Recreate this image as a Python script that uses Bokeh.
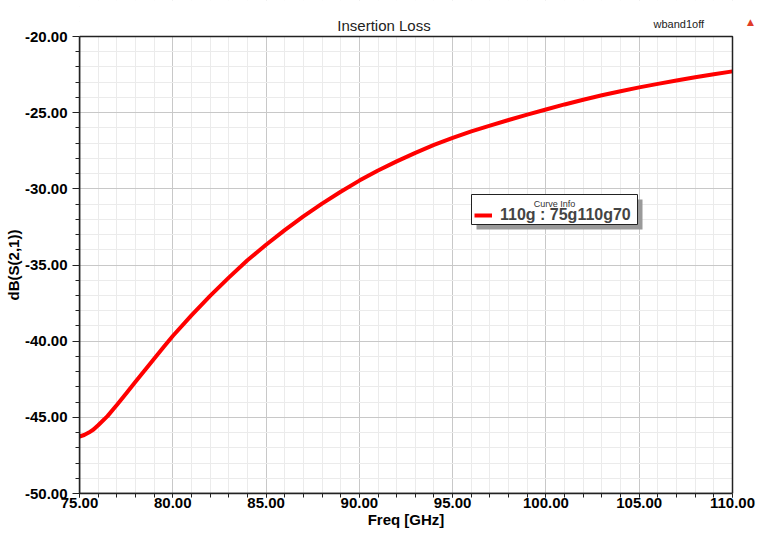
from bokeh.plotting import figure
from bokeh.models import (Range1d, SingleIntervalTicker, NumeralTickFormatter, Legend,
                          LegendItem, Label, BoxAnnotation, LinearAxis, FixedTicker)
from bokeh.embed import file_html
from bokeh.resources import INLINE

# ---- data ----
freq_ghz = [75.0, 75.25, 75.5, 75.75, 76.0, 76.5, 77.0, 77.5, 78.0, 78.5, 79.0, 79.5,
            80.0, 81.0, 82.0, 83.0, 84.0, 85.0, 86.0, 87.0, 88.0, 89.0, 90.0, 91.0,
            92.0, 93.0, 94.0, 95.0, 96.0, 97.0, 98.0, 99.0, 100.0, 101.0, 102.0,
            103.0, 104.0, 105.0, 106.0, 107.0, 108.0, 109.0, 110.0]
s21_db = [-46.26, -46.16, -46.00, -45.80, -45.52, -44.92, -44.19, -43.43, -42.67,
          -41.91, -41.15, -40.40, -39.66, -38.31, -37.03, -35.83, -34.69, -33.67,
          -32.71, -31.81, -30.97, -30.19, -29.46, -28.80, -28.20, -27.64, -27.12,
          -26.66, -26.23, -25.85, -25.48, -25.13, -24.79, -24.46, -24.15, -23.86,
          -23.59, -23.34, -23.11, -22.89, -22.68, -22.48, -22.29]
series_name = "110g : 75g110g70"
title_text = "Insertion Loss"
x_label = "Freq [GHz]"
y_label = "dB(S(2,1))"
project_name = "wband1off"
legend_header = "Curve Info"

X_MIN, X_MAX = 75, 110
Y_MIN, Y_MAX = -50, -20

FONT = "Liberation Sans"

# layout in pixels: the drawing frame is extended to the canvas top and right edges
# so that the header texts can live inside it; the visible plot box is 79..732 x 36..493
W, H = 767, 539
BOX_L, BOX_R, BOX_T, BOX_B = 79, 732, 36, 493
px_x = (BOX_R - BOX_L) / (X_MAX - X_MIN)
px_y = (BOX_B - BOX_T) / (Y_MAX - Y_MIN)
x_hi = X_MAX + (W - BOX_R) / px_x
y_hi = Y_MAX + BOX_T / px_y
x_mid = (X_MIN + X_MAX) / 2
y_mid = (Y_MIN + Y_MAX) / 2


def sx(px):  # page pixel -> data x
    return X_MIN + (px - BOX_L) / px_x


def sy(py):  # page pixel -> data y
    return Y_MAX + (BOX_T - py) / px_y


p = figure(width=W, height=H, output_backend="svg", toolbar_location=None,
           x_range=Range1d(X_MIN, x_hi), y_range=Range1d(Y_MIN, y_hi),
           min_border_left=BOX_L, min_border_right=0, min_border_top=0,
           min_border_bottom=H - BOX_B, background_fill_color="white",
           border_fill_color="white", outline_line_color=None)

for ax, bnds in ((p.xaxis[0], (X_MIN, X_MAX)), (p.yaxis[0], (Y_MIN, Y_MAX))):
    ax.bounds = bnds
    ax.ticker = SingleIntervalTicker(interval=5, num_minor_ticks=5)
    ax.formatter = NumeralTickFormatter(format="0.00")
    ax.axis_line_color = "#222222"
    ax.axis_line_width = 1.5
    ax.major_tick_line_color = "#222222"
    ax.minor_tick_line_color = "#222222"
    ax.major_tick_in = 0
    ax.minor_tick_in = 0
    ax.minor_tick_out = 4
    ax.major_label_text_font = FONT
    ax.major_label_text_font_size = "15px"
    ax.major_label_text_font_style = "bold"
    ax.major_label_text_color = "black"

p.xaxis.major_tick_out = 4
p.xaxis.major_label_standoff = 0
p.yaxis.major_tick_out = 7
p.yaxis.major_label_standoff = 5

# axis titles, centred on the plot box (drawn as single-tick axes)
xt = LinearAxis(ticker=FixedTicker(ticks=[x_mid], minor_ticks=[]),
                major_label_overrides={x_mid: x_label})
yt = LinearAxis(ticker=FixedTicker(ticks=[y_mid], minor_ticks=[]),
                major_label_overrides={y_mid: y_label},
                major_label_orientation="vertical")
for ax in (xt, yt):
    ax.axis_line_color = None
    ax.major_tick_line_color = None
    ax.minor_tick_line_color = None
    ax.major_tick_out = 0
    ax.major_tick_in = 0
    ax.major_label_standoff = 0
    ax.major_label_text_font = FONT
    ax.major_label_text_font_size = "15px"
    ax.major_label_text_font_style = "bold"
    ax.major_label_text_color = "black"
p.add_layout(xt, "below")
p.add_layout(yt, "left")

for g in (p.xgrid[0], p.ygrid[0]):
    g.grid_line_color = "#c8c8c8"
    g.grid_line_width = 1
    g.minor_grid_line_color = "#ebebeb"
    g.minor_grid_line_width = 1

r = p.line(freq_ghz, s21_db, line_color="#ff0000", line_width=4)

# white covers outside the plot box, then the plot box border
p.add_layout(BoxAnnotation(bottom=Y_MAX, fill_color="white", fill_alpha=1.0,
                           line_color=None))
p.add_layout(BoxAnnotation(left=X_MAX, fill_color="white", fill_alpha=1.0,
                           line_color=None))
p.add_layout(BoxAnnotation(left=X_MIN, right=X_MAX, bottom=Y_MIN, top=Y_MAX,
                           fill_alpha=0.0, line_color="#222222", line_width=1.5,
                           line_alpha=1.0))

# header texts
p.add_layout(Label(x=sx(383.5), y=sy(25), text=title_text, text_font=FONT,
                   text_font_size="15px", text_color="#222222",
                   text_align="center", text_baseline="alphabetic"))
p.add_layout(Label(x=sx(653), y=sy(23), text=project_name, text_font=FONT,
                   text_font_size="11px", text_color="#222222",
                   text_baseline="alphabetic"))
p.add_layout(Label(x=sx(750), y=sy(21), text="\u25b2", text_font="DejaVu Sans",
                   text_font_size="9px", text_color="#e03c28",
                   text_align="center", text_baseline="alphabetic"))

# legend box ("Curve Info") with drop shadow
p.add_layout(BoxAnnotation(left=sx(476), right=sx(642), top=sy(199), bottom=sy(229),
                           fill_color="#9a9a9a", fill_alpha=1.0, line_color=None))
p.add_layout(BoxAnnotation(left=sx(471), right=sx(637), top=sy(194), bottom=sy(224),
                           fill_color="white", fill_alpha=1.0,
                           line_color="#222222", line_width=1, line_alpha=1.0))
p.add_layout(Label(x=sx(554), y=sy(203), text=legend_header, text_font=FONT,
                   text_font_size="9px", text_color="#333333",
                   text_align="center", text_baseline="alphabetic"))

legend = Legend(items=[LegendItem(label=series_name, renderers=[r])],
                location=(476 - BOX_L - 2, BOX_B - 224),
                label_text_font=FONT, label_text_font_size="16px",
                label_text_font_style="bold", label_height=16, glyph_height=16,
                glyph_width=18, label_standoff=8, padding=2, spacing=0, margin=0,
                border_line_color=None, background_fill_alpha=0.0)
p.add_layout(legend, "center")

open("out.html", "w").write(file_html(p, INLINE))
